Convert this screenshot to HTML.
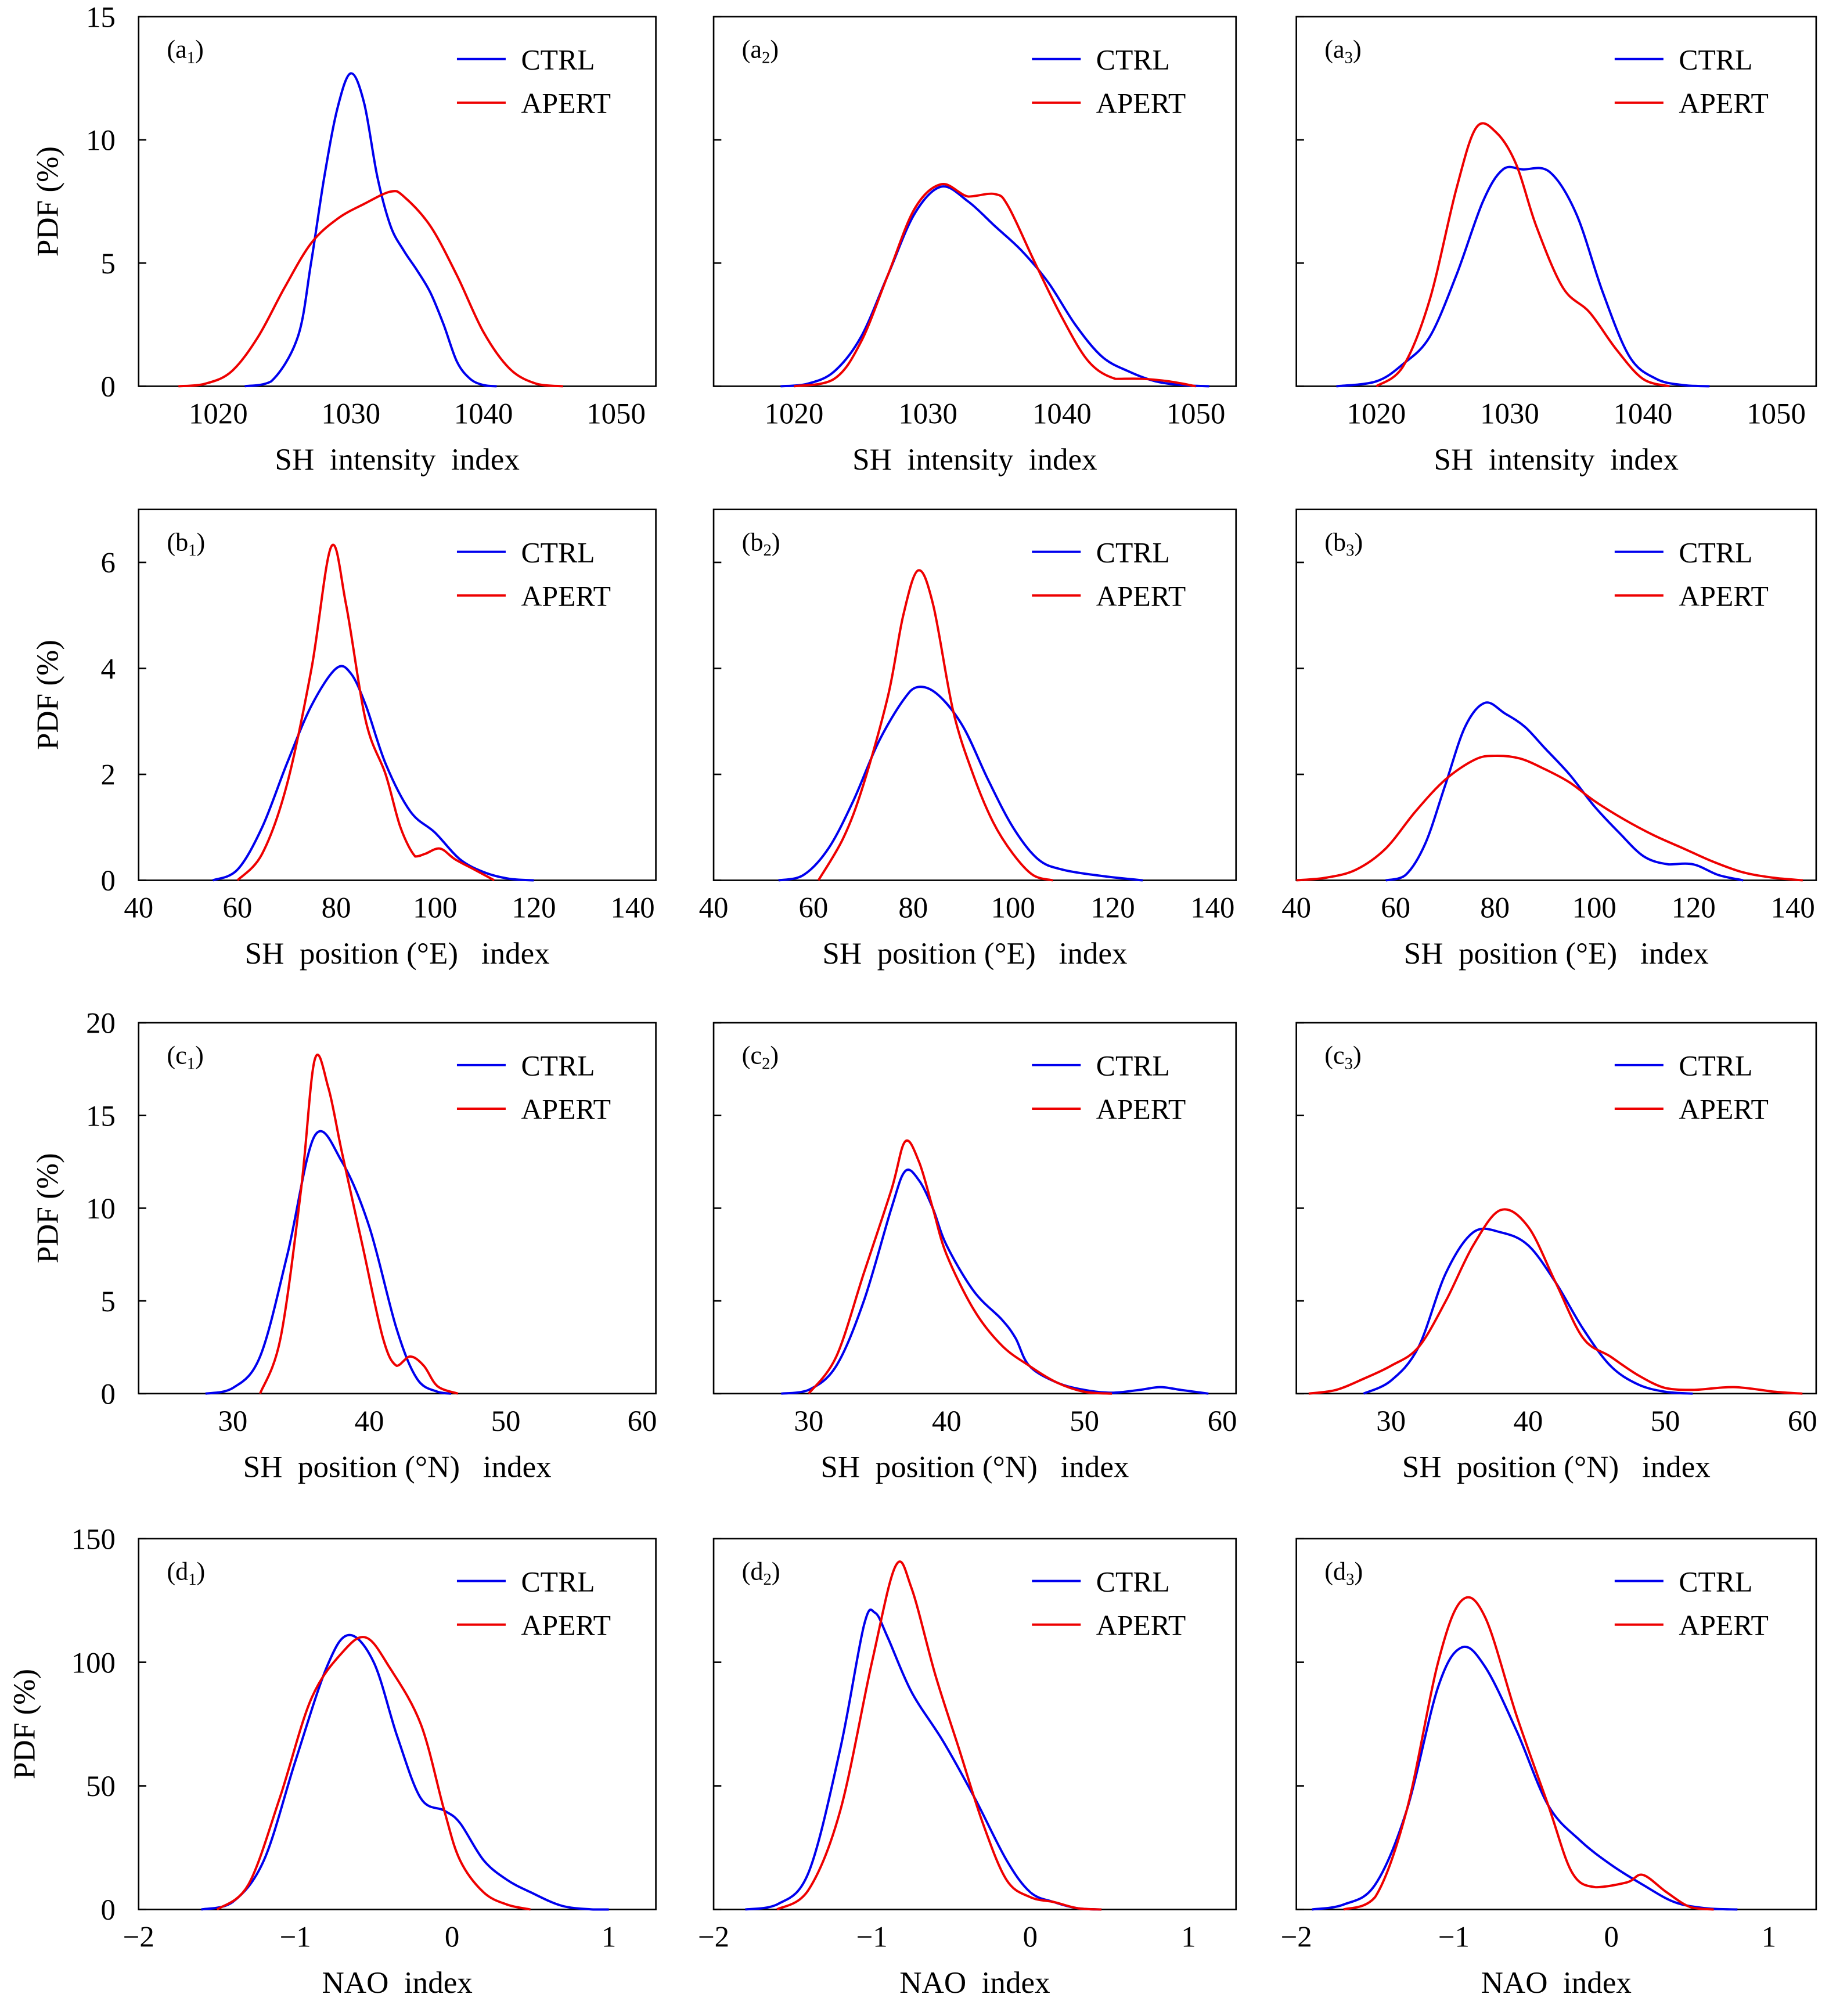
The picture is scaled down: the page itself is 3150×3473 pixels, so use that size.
<!DOCTYPE html>
<html><head><meta charset="utf-8">
<style>html,body{margin:0;padding:0;background:#fff}svg{display:block}text{font-family:"Liberation Serif",serif;fill:#000}</style>
</head><body>
<svg id="chart" width="3150" height="3473" viewBox="0 0 1425 1571" preserveAspectRatio="none" xmlns="http://www.w3.org/2000/svg"></svg>
<script>
// ---- data ----
const a1Ctrl=[[1022,0],[1024,0.2],[1026,2],[1027,5],[1028,8.5],[1029,11.3],[1030,12.7],[1031,11.5],[1032,8.5],[1033,6.5],[1034,5.5],[1035,4.7],[1036,3.8],[1037,2.5],[1038,1],[1039,0.3],[1040,0.05],[1041,0]];
const a1Apert=[[1017,0],[1019,0.1],[1021,0.6],[1023,2],[1025,4],[1027,5.8],[1029,6.8],[1031,7.4],[1033,7.9],[1034,7.7],[1036,6.5],[1038,4.5],[1040,2.2],[1042,0.7],[1044,0.1],[1046,0]];
const a2Ctrl=[[1019,0],[1021,0.1],[1023,0.6],[1025,2],[1027,4.5],[1029,7],[1031,8.1],[1033,7.5],[1035,6.5],[1037,5.5],[1039,4.2],[1041,2.5],[1043,1.2],[1045,0.6],[1047,0.2],[1049,0.05],[1051,0]];
const a2Apert=[[1020,0],[1023,0.3],[1025,1.8],[1027,4.5],[1029,7.2],[1031,8.2],[1033,7.7],[1035,7.8],[1036,7.3],[1038,5],[1040,2.8],[1042,1],[1044,0.3],[1046,0.3],[1048,0.2],[1050,0]];
const a3Ctrl=[[1017,0],[1020,0.2],[1022,0.9],[1024,2],[1026,4.5],[1028,7.5],[1029.5,8.8],[1031,8.8],[1033,8.7],[1035,7],[1037,3.8],[1039,1.2],[1041,0.3],[1043,0.05],[1045,0]];
const a3Apert=[[1020,0],[1022,0.8],[1024,3.5],[1026,8],[1027.5,10.5],[1029,10.3],[1030.5,9],[1032,6.5],[1034,4],[1036,3],[1038,1.5],[1040,0.3],[1042,0]];
const b1Ctrl=[[55,0],[60,0.2],[65,1],[70,2.2],[75,3.3],[80,4],[83,3.9],[86,3.3],[90,2.2],[95,1.3],[100,0.9],[105,0.4],[110,0.15],[115,0.03],[120,0]];
const b1Apert=[[60,0],[65,0.5],[70,1.8],[75,4],[79,6.3],[82,5.2],[86,3],[90,2],[93,1],[96,0.45],[98,0.5],[101,0.6],[104,0.4],[108,0.2],[112,0]];
const b2Ctrl=[[53,0],[58,0.1],[63,0.6],[68,1.5],[73,2.6],[78,3.4],[81,3.65],[85,3.5],[90,2.9],[95,1.9],[100,1],[105,0.4],[110,0.2],[118,0.08],[126,0]];
const b2Apert=[[61,0],[66,0.8],[70,1.8],[75,3.5],[78,5],[81,5.85],[84,5.2],[88,3.2],[92,2],[96,1.1],[100,0.5],[104,0.1],[108,0]];
const b3Ctrl=[[58,0],[62,0.1],[66,0.7],[70,1.8],[74,2.9],[78,3.35],[82,3.15],[86,2.9],[90,2.5],[95,2],[100,1.4],[105,0.9],[110,0.45],[115,0.3],[120,0.3],[125,0.1],[130,0]];
const b3Apert=[[40,0],[46,0.05],[52,0.2],[58,0.6],[64,1.3],[70,1.9],[76,2.28],[80,2.35],[85,2.3],[90,2.1],[95,1.85],[100,1.5],[106,1.15],[112,0.85],[118,0.6],[124,0.35],[130,0.15],[136,0.05],[142,0]];
const c1Ctrl=[[28,0],[30,0.3],[32,2],[34,7.5],[36,13.9],[38,12.5],[40,9],[42,3.5],[43.5,0.8],[45,0.1],[46,0]];
const c1Apert=[[32,0],[33.5,3],[35,11],[36,18],[37,16.5],[38,13],[39.5,8],[41,3],[42,1.5],[43,2],[44,1.5],[45,0.4],[46.5,0]];
const c2Ctrl=[[28,0],[30,0.2],[32,1.5],[34,5],[36,10],[37,12],[38,11.5],[39,10],[40,8],[42,5.5],[44,4],[45,3],[46,1.5],[48,0.6],[50,0.2],[52,0.05],[54,0.2],[55.5,0.35],[57,0.2],[59,0]];
const c2Apert=[[30,0],[32,2],[34,6.5],[36,11],[37,13.6],[38,12.5],[39,10],[40,7.5],[42,4.5],[44,2.6],[46,1.5],[48,0.6],[50,0.1],[52,0]];
const c3Ctrl=[[28,0],[30,0.7],[32,2.5],[34,6.5],[36,8.7],[38,8.7],[40,8],[42,6],[44,3.5],[46,1.5],[48,0.5],[50,0.1],[52,0]];
const c3Apert=[[24,0],[26,0.2],[28,0.8],[30,1.5],[32,2.5],[34,5],[36,8],[38,9.9],[40,9],[42,6],[44,3],[46,2],[48,1],[50,0.3],[52,0.2],[55,0.35],[58,0.1],[60,0]];
const d1Ctrl=[[-1.6,0],[-1.4,3],[-1.2,20],[-1.0,60],[-0.8,98],[-0.66,111],[-0.5,100],[-0.35,70],[-0.2,45],[-0.05,40],[0.05,35],[0.2,20],[0.35,12],[0.5,7],[0.7,1.5],[0.9,0],[1.0,0]];
const d1Apert=[[-1.5,0],[-1.3,10],[-1.1,45],[-0.9,85],[-0.7,104],[-0.55,110],[-0.4,98],[-0.2,75],[-0.05,40],[0.05,20],[0.2,7],[0.35,2],[0.5,0]];
const d2Ctrl=[[-1.8,0],[-1.6,2],[-1.4,15],[-1.2,65],[-1.05,115],[-0.98,120],[-0.9,110],[-0.75,88],[-0.55,68],[-0.35,45],[-0.15,20],[0,7],[0.15,3],[0.3,0.5],[0.45,0]];
const d2Apert=[[-1.6,0],[-1.4,8],[-1.2,40],[-1.0,100],[-0.85,139],[-0.75,130],[-0.6,95],[-0.45,65],[-0.3,35],[-0.15,12],[0,5],[0.15,3],[0.3,0.5],[0.45,0]];
const d3Ctrl=[[-1.9,0],[-1.7,2],[-1.5,10],[-1.3,40],[-1.1,90],[-0.95,106],[-0.8,98],[-0.6,72],[-0.4,42],[-0.2,28],[0,18],[0.2,10],[0.4,3],[0.6,0.5],[0.8,0]];
const d3Apert=[[-1.7,0],[-1.5,5],[-1.3,40],[-1.1,100],[-0.95,125],[-0.8,118],[-0.6,78],[-0.4,42],[-0.25,15],[-0.1,9],[0.1,11],[0.2,14],[0.35,7],[0.5,1],[0.65,0]];
const aXTicks=[1020,1030,1040,1050], aYTicks=[0,5,10,15];
const bXTicks=[40,60,80,100,120,140], bYTicks=[0,2,4,6];
const cXTicks=[30,40,50,60], cYTicks=[0,5,10,15,20];
const dXTicks=[-2,-1,0,1], dYTicks=[0,50,100,150];
const dXLabels=["\u22122","\u22121","0","1"];
const legendLabels=["CTRL","APERT"];

const rows=[
 {key:"a",xd:[1014,1053],yd:[0,15],xt:aXTicks,xl:aXTicks.map(String),yt:aYTicks,title:"SH  intensity  index",series:[[a1Ctrl,a1Apert],[a2Ctrl,a2Apert],[a3Ctrl,a3Apert]],top:13,bot:301},
 {key:"b",xd:[40,144.7],yd:[0,7],xt:bXTicks,xl:bXTicks.map(String),yt:bYTicks,title:"SH  position (°E)   index",series:[[b1Ctrl,b1Apert],[b2Ctrl,b2Apert],[b3Ctrl,b3Apert]],top:397,bot:686},
 {key:"c",xd:[23.1,61],yd:[0,20],xt:cXTicks,xl:cXTicks.map(String),yt:cYTicks,title:"SH  position (°N)   index",series:[[c1Ctrl,c1Apert],[c2Ctrl,c2Apert],[c3Ctrl,c3Apert]],top:797,bot:1086},
 {key:"d",xd:[-2,1.3],yd:[0,150],xt:dXTicks,xl:dXLabels,yt:dYTicks,title:"NAO  index",series:[[d1Ctrl,d1Apert],[d2Ctrl,d2Apert],[d3Ctrl,d3Apert]],top:1199,bot:1488}
];
const cols=[[108,511],[556,963],[1010,1415]];
const NS="http://www.w3.org/2000/svg";
const svg=document.getElementById("chart");
function mk(tag,attrs,parent){const e=document.createElementNS(NS,tag);for(const k in attrs)e.setAttribute(k,attrs[k]);(parent||svg).appendChild(e);return e;}
function smooth(pts){let d="M"+pts[0][0].toFixed(2)+","+pts[0][1].toFixed(2);
 for(let i=0;i<pts.length-1;i++){const p0=pts[Math.max(0,i-1)],p1=pts[i],p2=pts[i+1],p3=pts[Math.min(pts.length-1,i+2)];
  let c1y=p1[1]+(p2[1]-p0[1])/6,c2y=p2[1]-(p3[1]-p1[1])/6;
  const base=Math.max(p1[1],p2[1]);c1y=Math.min(c1y,base);c2y=Math.min(c2y,base);
  d+=" C"+(p1[0]+(p2[0]-p0[0])/6).toFixed(2)+","+c1y.toFixed(2)+" "+(p2[0]-(p3[0]-p1[0])/6).toFixed(2)+","+c2y.toFixed(2)+" "+p2[0].toFixed(2)+","+p2[1].toFixed(2);}
 return d;}
rows.forEach((r,ri)=>{
 cols.forEach((c,ci)=>{
  const L=c[0],R=c[1],T=r.top,B=r.bot;
  const sx=v=>L+(v-r.xd[0])/(r.xd[1]-r.xd[0])*(R-L);
  const sy=v=>B-(v-r.yd[0])/(r.yd[1]-r.yd[0])*(B-T);
  const g=mk("g",{});
  
  
  const fr=mk("rect",{x:L,y:T,width:R-L,height:B-T,fill:"none",stroke:"#000","stroke-width":1.2},g);
  
  
  r.yt.forEach(v=>{
   const tk=mk("line",{x1:L,x2:L+6,y1:sy(v),y2:sy(v),stroke:"#000","stroke-width":1.2},g);
   
   
   if(ci===0){const t=mk("text",{x:L-18,y:sy(v)+8,"text-anchor":"end","font-size":23},g);t.textContent=v;
    
    }
  });
  r.xt.forEach((v,i)=>{const t=mk("text",{x:sx(v),y:B+29,"text-anchor":"middle","font-size":23},g);t.textContent=r.xl[i];
   
   });
  const xt=mk("text",{x:(L+R)/2,y:B+65,"text-anchor":"middle","font-size":24},g);xt.textContent=r.title;
  xt.style.whiteSpace="pre";
  
  
  if(ci===0){const cy=(T+B)/2;const yt=mk("text",{x:0,y:0,"text-anchor":"middle","font-size":24,transform:"translate("+(ri===3?27:45)+","+cy+") rotate(-90)"},g);yt.textContent="PDF (%)";
   
   }
  const pl=mk("text",{x:L+22,y:T+32,"font-size":20},g);
  pl.innerHTML='('+r.key+'<tspan font-size="13" dy="4">'+(ci+1)+'</tspan><tspan dy="-4">)</tspan>';
  
  
  const colors=["#0000ee","#ee0000"];
  r.series[ci].forEach((s,si)=>{
   const p=mk("path",{d:smooth(s.map(q=>[sx(q[0]),sy(q[1])])),fill:"none",stroke:colors[si],"stroke-width":1.8},g);
   
   
   const ly=T+33+si*34;
   const ll=mk("line",{x1:L+248,x2:L+286,y1:ly,y2:ly,stroke:colors[si],"stroke-width":1.8},g);
   
   
   const lt=mk("text",{x:L+298,y:ly+8,"font-size":22.5},g);lt.textContent=legendLabels[si];
   
   
  });
 });
});
</script>
</body></html>
